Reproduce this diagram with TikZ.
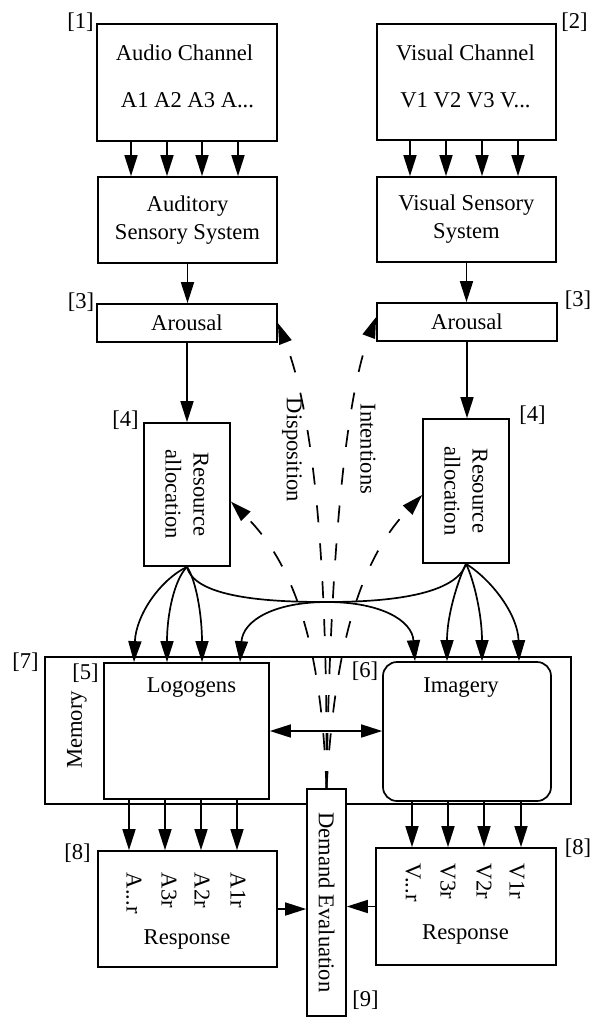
\documentclass[tikz,border=0pt]{standalone}
\usepackage{fontspec}
\setmainfont{Liberation Serif}
\usetikzlibrary{arrows.meta, calc}

\begin{document}
\begin{tikzpicture}[x=0.5pt, y=-0.5pt,
    font=\fontsize{11.3}{14}\selectfont,
    line width=0.85pt,
    box/.style={draw, inner sep=0pt},
    txt/.style={inner sep=0pt, align=center},
    tag/.style={inner sep=0pt},
    vtxt/.style={inner sep=0pt, rotate=-90, anchor=west},
    arr/.style={-{Triangle[length=10.5pt, width=6.5pt]}},
    darr/.style={arr, dash pattern=on 8.5pt off 10.5pt}]
  \useasboundingbox (0,0) rectangle (594,1019);
  % channels
  \node[box, minimum width=90pt, minimum height=58.5pt] (audio) at (187,82.5) {};
  \node[txt] (audioT) at (184.5,53) {Audio Channel};
  \node[txt] (audioA) at (187.5,100) {A1 A2 A3 A...};
  \node[box, minimum width=89.5pt, minimum height=58pt] (visual) at (466.5,82) {};
  \node[txt] (visualT) at (465.5,53) {Visual Channel};
  \node[txt] (visualV) at (465.5,100) {V1 V2 V3 V...};
  \node[box, minimum width=89.5pt, minimum height=43pt, align=center] (audsys) at (187.5,220) {Auditory\\Sensory System};
  \node[box, minimum width=89.5pt, minimum height=42.5pt, align=center] (vissys) at (466.5,219.5) {Visual Sensory\\System};
  \node[box, minimum width=90pt, minimum height=19pt] (arL) at (187,323) {Arousal};
  \node[box, minimum width=90pt, minimum height=19pt] (arR) at (467,322) {Arousal};
  \node[box, minimum width=43pt, minimum height=71.5pt] (raL) at (187,494.5) {};
  \node[txt, rotate=-90] (raLT) at (raL) {Resource\\allocation};
  \node[box, minimum width=43pt, minimum height=72pt] (raR) at (466,491) {};
  \node[txt, rotate=-90] (raRT) at (raR) {Resource\\allocation};
  % memory
  \node[box, minimum width=263pt, minimum height=73.5pt] (mem) at (308,730.5) {};
  \node[txt, rotate=90] (memT) at (77,730) {Memory};
  \node[box, minimum width=82.5pt, minimum height=68pt] (logo) at (186.5,731) {};
  \node[txt] (logoT) at (191.5,688) {Logogens};
  \node[box, rounded corners=7pt, minimum width=84pt, minimum height=69.5pt] (img) at (467,731.5) {};
  \node[txt] (imgT) at (461,688) {Imagery};
  % responses
  \node[box, minimum width=89.5pt, minimum height=58pt] (respL) at (187.5,909) {};
  \node[txt] (respLT) at (187,939) {Response};
  \foreach \x/\t in {134/{A.{}.{}.r}, 169/A3r, 202/A2r, 238/A1r}
    \node[vtxt] (rl\x) at (\x,872) {\t};
  \node[box, minimum width=90pt, minimum height=58.5pt] (respR) at (466,906.5) {};
  \node[txt] (respRT) at (465.5,934) {Response};
  \foreach \x/\t in {413/{V.{}.{}.r}, 448/V3r, 484/V2r, 517/V1r}
    \node[vtxt] (rr\x) at (\x,863) {\t};
  \node[box, fill=white, minimum width=19.5pt, minimum height=113.5pt] (demand) at (326.5,902.5) {};
  \node[txt, rotate=-90] (demandT) at (demand) {Demand Evaluation};
  \node[txt, rotate=-90] (dispT) at (292,450) {Disposition};
  \node[txt, rotate=-90] (intT) at (368,449) {Intentions};
  % tags
  \node[tag] (t1) at (80.5,22) {[1]};
  \node[tag] (t2) at (574.5,22) {[2]};
  \node[tag] (t3L) at (81,302) {[3]};
  \node[tag] (t3R) at (578,300) {[3]};
  \node[tag] (t4L) at (125.5,420) {[4]};
  \node[tag] (t4R) at (532.5,415) {[4]};
  \node[tag] (t5) at (85.5,673) {[5]};
  \node[tag] (t6) at (365,671) {[6]};
  \node[tag] (t7) at (25.5,662) {[7]};
  \node[tag] (t8L) at (77.5,853) {[8]};
  \node[tag] (t8R) at (578,848) {[8]};
  \node[tag] (t9) at (365.5,1000) {[9]};
  % straight arrows
  \foreach \x in {131,167,202,238}
    \draw[arr] (\x,0 |- audio.south) -- (\x,0 |- audsys.north);
  \foreach \x in {410,446,482,518}
    \draw[arr] (\x,0 |- visual.south) -- (\x,0 |- vissys.north);
  \draw[arr] (audsys.south) -- (audsys.south |- arL.north);
  \draw[arr] (vissys.south) -- (vissys.south |- arR.north);
  \draw[arr] (arL.south) -- (arL.south |- raL.north);
  \draw[arr] (arR.south) -- (arR.south |- raR.north);
  \foreach \x in {129,165,201,237}
    \draw[arr] (\x,0 |- logo.south) -- (\x,0 |- respL.north);
  \foreach \x in {412,448,484,521}
    \draw[arr] (\x,0 |- img.south) -- (\x,0 |- respR.north);
  \draw[{Triangle[length=10.5pt, width=6.5pt]}-{Triangle[length=10.5pt, width=6.5pt]}] (logo.east) -- (logo.east -| img.west);
  \draw[arr] (respL.east) -- (respL.east -| demand.west);
  \draw[arr] (respR.west) -- (respR.west -| demand.east);
  % allocation to memory
  \foreach \x/\a/\b in {134/160/136, 167/174/167, 202/196/202}
    \draw[arr] (raL.south) .. controls (\a,580) and (\b,615) .. (\x,0 |- logo.north);
  \foreach \x/\a/\b in {447/458/447, 482/474/482, 519/492/518}
    \draw[arr] (raR.south) .. controls (\a,580) and (\b,615) .. (\x,0 |- img.north);
  \draw[arr] (raL.south) .. controls (195,600) and (280,602) .. (327,602)
    .. controls (380,602) and (412,620) .. (415,0 |- img.north);
  \draw[arr] (raR.south) .. controls (455,598) and (375,602) .. (327,602)
    .. controls (275,602) and (243,620) .. (240,0 |- logo.north);
  % demand feedback
  \draw[darr] (demand.north) .. controls (322,660) and (300,570) .. ($(raL.east)+(0,7)$);
  \draw[darr] (demand.north) .. controls (328,520) and (308,400) .. (arL.east);
  \draw[darr] (demand.north) .. controls (330,560) and (345,400) .. ($(arR.west)+(0,-5)$);
  \draw[darr] (demand.north) .. controls (334,660) and (355,565) .. ($(raR.west)+(0,4)$);
\end{tikzpicture}
\end{document}
